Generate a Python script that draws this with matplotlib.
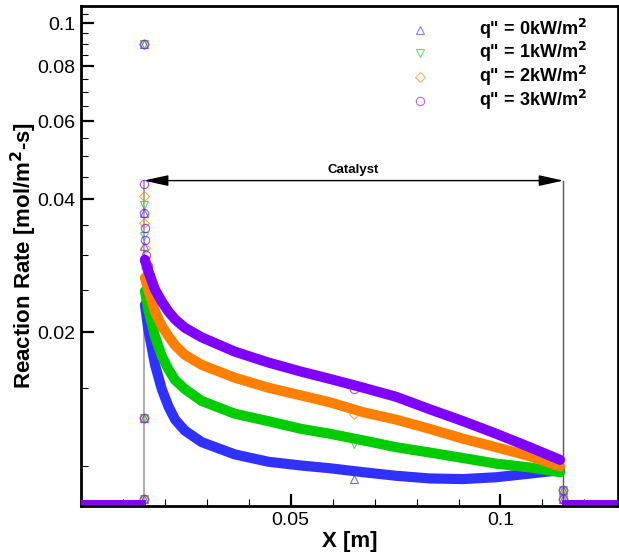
import numpy as np
import matplotlib
matplotlib.use('Agg')
import matplotlib.pyplot as plt
from matplotlib.ticker import FixedLocator, FixedFormatter, NullFormatter

plt.rcParams['font.family'] = ['Liberation Sans', 'DejaVu Sans']

# ---------------- data ----------------
labels = ['q" = 0kW/m$^\\mathbf{2}$', 'q" = 1kW/m$^\\mathbf{2}$',
          'q" = 2kW/m$^\\mathbf{2}$', 'q" = 3kW/m$^\\mathbf{2}$']
colors = ['#3030ff', '#00cc00', '#ff8000', '#8000ff']
markers = ['^', 'v', 'D', 'o']

# catalyst section (dense band)
x_cat = [0.0153, 0.0161, 0.0177, 0.0193, 0.0209, 0.0225, 0.0248, 0.0288,
         0.0367, 0.0447, 0.0526, 0.0594, 0.0673, 0.0752, 0.0832, 0.0911,
         0.0990, 0.1070, 0.1142]
rate_q0 = [0.0231, 0.0203, 0.0169, 0.0149, 0.0136, 0.0127, 0.0120, 0.0113,
           0.0106, 0.0102, 0.0100, 0.00986, 0.00966, 0.00948, 0.00935, 0.00932,
           0.00941, 0.00959, 0.00976]
rate_q1 = [0.0248, 0.0225, 0.0196, 0.0177, 0.0165, 0.0156, 0.0149, 0.0140,
           0.0131, 0.0126, 0.0121, 0.0118, 0.0114, 0.0110, 0.0107, 0.0104,
           0.0101, 0.00990, 0.00966]
rate_q2 = [0.0266, 0.0250, 0.0223, 0.0207, 0.0196, 0.0187, 0.0178, 0.0169,
           0.0158, 0.0150, 0.0144, 0.0139, 0.0132, 0.0127, 0.0121, 0.0115,
           0.0110, 0.0105, 0.00996]
rate_q3 = [0.0292, 0.0275, 0.0250, 0.0235, 0.0223, 0.0214, 0.0205, 0.0195,
           0.0181, 0.0171, 0.0163, 0.0157, 0.0150, 0.0143, 0.0134, 0.0126,
           0.0118, 0.0110, 0.0103]
rates = [rate_q0, rate_q1, rate_q2, rate_q3]

# outside the catalyst (rate ~0, sits on the bottom of the axis)
x_left = [0.0, 0.0148]
x_right = [0.1152, 0.128]
rate_out = 0.00828

# isolated larger symbols
x_sym_common = [0.015, 0.015, 0.015, 0.115, 0.115]
y_sym_common = [0.0898, 0.0128, 0.0084, 0.0088, 0.0084]
x_sym = [[0.015, 0.015, 0.0151, 0.0152, 0.0153, 0.0155, 0.065],
         [0.015, 0.015, 0.0152, 0.0153, 0.065],
         [0.015, 0.015, 0.0152, 0.0155, 0.065],
         [0.015, 0.015, 0.0152, 0.0153, 0.0155, 0.016, 0.0165, 0.065]]
y_sym = [[0.0373, 0.0313, 0.0295, 0.0270, 0.0250, 0.0230, 0.0093],
         [0.0389, 0.0330, 0.0290, 0.0260, 0.0112],
         [0.0408, 0.0354, 0.0310, 0.0280, 0.0131],
         [0.0433, 0.0373, 0.0345, 0.0324, 0.0300, 0.0283, 0.0270, 0.0149]]

cat_start, cat_end = 0.015, 0.115
arrow_y = 0.0441

# ---------------- plot ----------------
fig = plt.figure(figsize=(6.19, 5.54), dpi=100)
ax = fig.add_axes([0.1304, 0.0866, 0.868, 0.903])
ax.set_yscale('log')

# catalyst boundary lines and arrow
ax.plot([cat_start, cat_start], [0.0081, arrow_y], color='#a0a0a0', lw=1.2, zorder=1)
ax.plot([cat_end, cat_end], [0.0081, arrow_y], color='#555555', lw=1.0, zorder=1)
ax.annotate('', xy=(cat_start, arrow_y), xytext=(cat_end, arrow_y),
            arrowprops=dict(arrowstyle='<|-|>,head_length=1.5,head_width=0.33',
                            color='black', lw=1.0, mutation_scale=10,
                            shrinkA=0, shrinkB=0))
ax.text(0.065, 0.0466, 'Catalyst', ha='center', va='center',
        fontsize=9.5, fontweight='bold')

# legend rows (axes fraction)
leg_mx, leg_tx = 0.6315, 0.7413
leg_y = [0.9514, 0.9055, 0.8575, 0.8096]

for i in range(4):
    c = colors[i]
    ms = 6 if markers[i] != 'D' else 5
    ax.plot(x_cat, rates[i], color=c, lw=7.3, solid_capstyle='round',
            solid_joinstyle='round', zorder=2 + i)
    ax.plot(x_left, [rate_out, rate_out], color=c, lw=3.5, zorder=2 + i)
    ax.plot(x_right, [rate_out, rate_out], color=c, lw=3.5, zorder=2 + i)
    ax.plot(x_sym[i] + x_sym_common, y_sym[i] + y_sym_common, linestyle='none',
            marker=markers[i], markersize=ms,
            markerfacecolor='none', markeredgecolor=c, markeredgewidth=0.8,
            alpha=0.7, zorder=2 + i)
    # legend entry
    ax.plot([leg_mx], [leg_y[i]], transform=ax.transAxes, linestyle='none',
            marker=markers[i], markersize=ms, markerfacecolor='none',
            markeredgecolor=c, markeredgewidth=0.8, alpha=0.6)
    ax.text(leg_tx, leg_y[i] - 0.01, labels[i], transform=ax.transAxes,
            ha='left', va='baseline', fontsize=13, fontweight='bold')

ax.set_xlim(0, 0.128)
ax.set_ylim(0.0081, 0.1096)

ax.xaxis.set_major_locator(FixedLocator([0.05, 0.1]))
ax.xaxis.set_major_formatter(FixedFormatter(['0.05', '0.1']))
ax.xaxis.set_minor_locator(FixedLocator([0.01, 0.02, 0.03, 0.04, 0.06, 0.07,
                                         0.08, 0.09, 0.11, 0.12]))
yt = [0.02, 0.04, 0.06, 0.08, 0.1]
ax.yaxis.set_major_locator(FixedLocator(yt))
ax.yaxis.set_major_formatter(FixedFormatter(['0.02', '0.04', '0.06', '0.08', '0.1']))
ax.yaxis.set_minor_locator(FixedLocator([0.005 * k for k in range(2, 23) if k % 4 != 0]))
ax.yaxis.set_minor_formatter(NullFormatter())

ax.tick_params(which='both', direction='in', top=False, right=False, labelsize=14)
ax.tick_params(which='major', length=9, width=1.6, pad=4)
ax.tick_params(which='minor', length=5, width=0.8)
for s in ax.spines.values():
    s.set_linewidth(2)

ax.set_xlabel('X [m]', fontsize=16, fontweight='bold', labelpad=2)
ax.set_ylabel('Reaction Rate [mol/m$^\\mathbf{2}$-s]', fontsize=16,
              fontweight='bold', labelpad=-1.5)

fig.savefig('out.png', dpi=100)
